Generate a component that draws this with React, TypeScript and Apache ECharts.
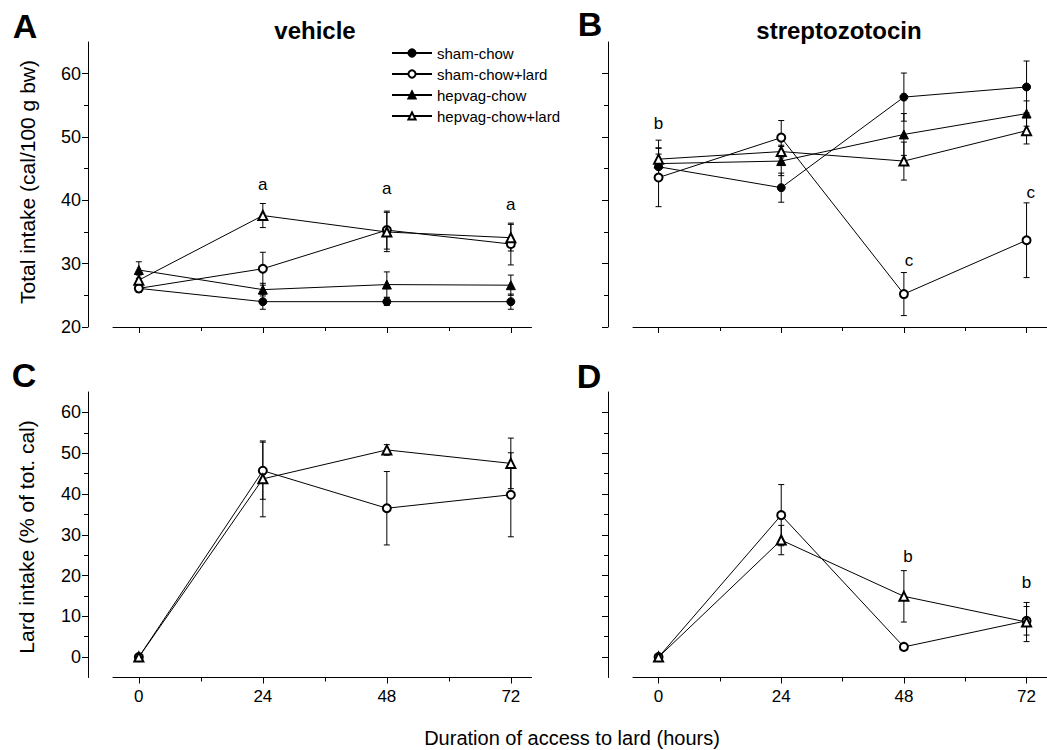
import React, { useEffect, useRef } from "react";
import * as echarts from "echarts";

// ---------- data ----------
const hours = [0, 24, 48, 72];
const groupNames = ["sham-chow", "sham-chow+lard", "hepvag-chow", "hepvag-chow+lard"];

// Panel A: vehicle, total intake (cal/100 g bw)
const vehShamChow = [26.1, 24.0, 24.0, 24.0];
const vehShamChowErr = [0.6, 1.2, 0.6, 1.2];
const vehShamLard = [26.1, 29.2, 35.3, 33.1];
const vehShamLardErr = [0.6, 2.6, 3.0, 3.3];
const vehHepChow = [29.0, 25.9, 26.7, 26.6];
const vehHepChowErr = [1.3, 1.0, 2.0, 1.6];
const vehHepLard = [27.4, 37.6, 35.0, 34.1];
const vehHepLardErr = [0.8, 1.9, 3.1, 2.1];

// Panel B: streptozotocin, total intake
const stzShamChow = [45.3, 42.0, 56.3, 57.9];
const stzShamChowErr = [2.0, 2.3, 3.8, 4.1];
const stzShamLard = [43.6, 49.9, 25.2, 33.7];
const stzShamLardErr = [4.6, 2.7, 3.4, 5.9];
const stzHepChow = [45.8, 46.2, 50.4, 53.7];
const stzHepChowErr = [2.5, 2.3, 3.3, 2.0];
const stzHepLard = [46.5, 47.7, 46.2, 51.0];
const stzHepLardErr = [3.0, 1.0, 3.0, 2.1];

// Panel C: vehicle, lard intake (% of tot. cal)
const vehLardSham = [0, 45.7, 36.5, 39.8];
const vehLardShamErr = [0, 7.0, 9.0, 10.3];
const vehLardHep = [0, 43.7, 50.8, 47.5];
const vehLardHepErr = [0, 9.3, 1.3, 6.2];

// Panel D: streptozotocin, lard intake
const stzLardSham = [0, 34.8, 2.5, 8.9];
const stzLardShamErr = [0, 7.5, 0.7, 3.5];
const stzLardHep = [0, 28.7, 14.9, 8.6];
const stzLardHepErr = [0, 3.6, 6.3, 4.8];

// significance letters [hour, value]
const annA = [[24, 42.5], [48, 41.9], [72, 39.4]];
const annAText = ["a", "a", "a"];
const annB = [[0, 52.2], [49, 30.5], [72.8, 41.3]];
const annBText = ["b", "c", "c"];
const annD = [[48.8, 24.6], [72, 18.3]];
const annDText = ["b", "b"];

// axis ticks
const xMajor = [0, 24, 48, 72];
const xMinor = [12, 36, 60];
const yTopMajor = [20, 30, 40, 50, 60];
const yTopMinor = [25, 35, 45, 55];
const yBotMajor = [0, 10, 20, 30, 40, 50, 60];
const yBotMinor = [5, 15, 25, 35, 45, 55];

const FONT = "'Liberation Sans', Arial, Helvetica, sans-serif";

const symbols: Record<string, [string, number]> = {
  "sham-chow": ["circle", 8],
  "sham-chow+lard": ["emptyCircle", 8],
  "hepvag-chow": ["triangle", 9],
  "hepvag-chow+lard": ["emptyTriangle", 9],
};

function lineSeries(name: string, values: number[], grid: number) {
  const [sym, size] = symbols[name];
  return {
    type: "line",
    name,
    xAxisIndex: grid * 2,
    yAxisIndex: grid * 2,
    data: hours.map((h, i) => [h, values[i]]),
    symbol: sym,
    symbolSize: size,
    showAllSymbol: true,
    lineStyle: { color: "#000", width: 1 },
    itemStyle: { color: "#000", borderColor: "#000", borderWidth: 1 },
    z: 3,
    silent: true,
  };
}

function errSeries(values: number[], errs: number[], grid: number) {
  const rows: number[][] = [];
  hours.forEach((h, i) => {
    if (errs[i] > 0) rows.push([h, values[i] - errs[i], values[i] + errs[i]]);
  });
  return {
    type: "custom",
    xAxisIndex: grid * 2,
    yAxisIndex: grid * 2,
    data: rows,
    encode: { x: 0, y: [1, 2] },
    z: 2,
    silent: true,
    renderItem: (params: any, api: any) => {
      const x = api.value(0);
      const top = api.coord([x, api.value(2)]);
      const bot = api.coord([x, api.value(1)]);
      const w = 3;
      const st = { stroke: "#000", lineWidth: 1 };
      return {
        type: "group",
        children: [
          { type: "line", shape: { x1: top[0], y1: top[1], x2: bot[0], y2: bot[1] }, style: st },
          { type: "line", shape: { x1: top[0] - w, y1: top[1], x2: top[0] + w, y2: top[1] }, style: st },
          { type: "line", shape: { x1: bot[0] - w, y1: bot[1], x2: bot[0] + w, y2: bot[1] }, style: st },
        ],
      };
    },
  };
}

function annSeries(points: number[][], texts: string[], grid: number) {
  return {
    type: "custom",
    xAxisIndex: grid * 2,
    yAxisIndex: grid * 2,
    data: points,
    encode: { x: 0, y: 1 },
    z: 4,
    silent: true,
    renderItem: (params: any, api: any) => {
      const c = api.coord([api.value(0), api.value(1)]);
      return {
        type: "text",
        x: c[0],
        y: c[1],
        style: {
          text: texts[params.dataIndex],
          fontSize: 17,
          fontFamily: FONT,
          fill: "#000",
          align: "center",
          verticalAlign: "middle",
        },
      };
    },
  };
}

export default function App() {
  const ref = useRef<HTMLDivElement>(null);
  useEffect(() => {
    if (!ref.current) return;
    const chart = echarts.init(ref.current, null, { renderer: "svg" });

    const grids = [
      { left: 113, top: 42, width: 418.5, height: 285 },
      { left: 633, top: 42, width: 418.5, height: 285 },
      { left: 113, top: 392, width: 418.5, height: 285.5 },
      { left: 633, top: 392, width: 418.5, height: 285.5 },
    ];

    const xAxis: any[] = [];
    const yAxis: any[] = [];
    grids.forEach((_, i) => {
      const top = i < 2;
      const yMaj = top ? yTopMajor : yBotMajor;
      const yMin = top ? yTopMinor : yBotMinor;
      xAxis.push({
        type: "value",
        gridIndex: i,
        min: -5,
        max: 76,
        position: "bottom",
        axisLine: { show: true, onZero: false, lineStyle: { color: "#000", width: 1 } },
        axisTick: { show: true, customValues: xMajor, length: 6, lineStyle: { color: "#000", width: 1 } },
        axisLabel: {
          show: !top,
          customValues: xMajor,
          fontSize: 17,
          color: "#000",
          fontFamily: FONT,
          margin: 10,
        },
        splitLine: { show: false },
      });
      xAxis.push({
        type: "value",
        gridIndex: i,
        min: -5,
        max: 76,
        position: "bottom",
        axisLine: { show: false, onZero: false },
        axisTick: { show: true, customValues: xMinor, length: 4, lineStyle: { color: "#000", width: 1 } },
        axisLabel: { show: false },
        splitLine: { show: false },
      });
      yAxis.push({
        type: "value",
        gridIndex: i,
        min: top ? 20 : -5,
        max: 65,
        position: "left",
        offset: 25,
        axisLine: { show: true, onZero: false, lineStyle: { color: "#000", width: 1 } },
        axisTick: { show: true, customValues: yMaj, length: 6, lineStyle: { color: "#000", width: 1 } },
        axisLabel: {
          show: i % 2 === 0,
          customValues: yMaj,
          fontSize: 18,
          color: "#000",
          fontFamily: FONT,
          margin: 7,
        },
        splitLine: { show: false },
      });
      yAxis.push({
        type: "value",
        gridIndex: i,
        min: top ? 20 : -5,
        max: 65,
        position: "left",
        offset: 25,
        axisLine: { show: false, onZero: false },
        axisTick: { show: true, customValues: yMin, length: 4, lineStyle: { color: "#000", width: 1 } },
        axisLabel: { show: false },
        splitLine: { show: false },
      });
    });

    const series: any[] = [
      // Panel A
      errSeries(vehShamChow, vehShamChowErr, 0),
      errSeries(vehShamLard, vehShamLardErr, 0),
      errSeries(vehHepChow, vehHepChowErr, 0),
      errSeries(vehHepLard, vehHepLardErr, 0),
      lineSeries("sham-chow", vehShamChow, 0),
      lineSeries("sham-chow+lard", vehShamLard, 0),
      lineSeries("hepvag-chow", vehHepChow, 0),
      lineSeries("hepvag-chow+lard", vehHepLard, 0),
      annSeries(annA, annAText, 0),
      // Panel B
      errSeries(stzShamChow, stzShamChowErr, 1),
      errSeries(stzShamLard, stzShamLardErr, 1),
      errSeries(stzHepChow, stzHepChowErr, 1),
      errSeries(stzHepLard, stzHepLardErr, 1),
      lineSeries("sham-chow", stzShamChow, 1),
      lineSeries("sham-chow+lard", stzShamLard, 1),
      lineSeries("hepvag-chow", stzHepChow, 1),
      lineSeries("hepvag-chow+lard", stzHepLard, 1),
      annSeries(annB, annBText, 1),
      // Panel C
      errSeries(vehLardSham, vehLardShamErr, 2),
      errSeries(vehLardHep, vehLardHepErr, 2),
      lineSeries("sham-chow+lard", vehLardSham, 2),
      lineSeries("hepvag-chow+lard", vehLardHep, 2),
      // Panel D
      errSeries(stzLardSham, stzLardShamErr, 3),
      errSeries(stzLardHep, stzLardHepErr, 3),
      lineSeries("sham-chow+lard", stzLardSham, 3),
      lineSeries("hepvag-chow+lard", stzLardHep, 3),
      annSeries(annD, annDText, 3),
    ];

    const txt = (text: string, x: number, y: number, size: number, bold: boolean, rot = 0) => ({
      type: "text",
      x,
      y,
      rotation: rot,
      silent: true,
      style: {
        text,
        fontSize: size,
        fontWeight: bold ? "bold" : "normal",
        fontFamily: FONT,
        fill: "#000",
        align: "center",
        verticalAlign: "middle",
      },
    });

    chart.setOption({
      animation: false,
      backgroundColor: "#fff",
      grid: grids,
      xAxis,
      yAxis,
      legend: {
        data: groupNames,
        orient: "vertical",
        left: 386,
        top: 40.5,
        itemWidth: 40,
        itemHeight: 9,
        itemGap: 6,
        selectedMode: false,
        textStyle: { fontSize: 15, lineHeight: 15, fontFamily: FONT, color: "#000" },
      },
      series,
      graphic: [
        txt("A", 25, 26, 34, true),
        txt("vehicle", 315, 30, 24, true),
        txt("B", 590, 24, 34, true),
        txt("streptozotocin", 839, 30, 24, true),
        txt("C", 24, 375, 34, true),
        txt("D", 589, 376, 34, true),
        txt("Total intake (cal/100 g bw)", 27, 182, 21, false, Math.PI / 2),
        txt("Lard intake (% of tot. cal)", 26, 537, 21, false, Math.PI / 2),
        txt("Duration of access to lard (hours)", 572, 738, 20, false),
      ],
    });
    return () => chart.dispose();
  }, []);
  return (
    <div
      ref={ref}
      style={{ position: "fixed", left: 0, top: 0, width: 1047, height: 750, background: "#fff" }}
    />
  );
}
